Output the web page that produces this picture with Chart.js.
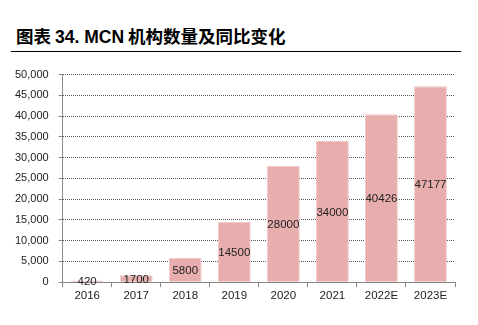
<!DOCTYPE html>
<html>
<head>
<meta charset="utf-8">
<script src="https://cdn.jsdelivr.net/npm/chart.js@4/dist/chart.umd.min.js"></script>
<style>
body { margin: 0; background: #fff; width: 478px; height: 325px; overflow: hidden; position: relative; }
#title { position: absolute; left: 16px; top: 23px; font: bold 17.5px "Noto Sans CJK SC", sans-serif; color: #000; white-space: nowrap; }
#title .n { font-family: "Liberation Sans", Arial, sans-serif; }
#rule { position: absolute; left: 11px; top: 51px; width: 450px; height: 0; border-top: 1.5px solid #000; }
#box { position: absolute; left: 0; top: 58px; width: 478px; height: 267px; }
</style>
</head>
<body>
<div id="title">图表 <span class="n">34. MCN</span> 机构数量及同比变化</div>
<div id="rule"></div>
<div id="box"><canvas id="myChart"></canvas></div>
<script>
const labels = ['2016', '2017', '2018', '2019', '2020', '2021', '2022E', '2023E'];
const data = [420, 1700, 5800, 14500, 28000, 34000, 40426, 47177];

// draws the value in the middle of each bar
const midLabels = {
  id: 'midLabels',
  afterDatasetsDraw(chart) {
    const ctx = chart.ctx;
    const meta = chart.getDatasetMeta(0);
    ctx.save();
    ctx.font = '11.5px "Liberation Sans", Arial, sans-serif';
    ctx.fillStyle = '#222';
    ctx.textAlign = 'center';
    ctx.textBaseline = 'middle';
    meta.data.forEach((bar, i) => {
      ctx.fillText(String(data[i]), bar.x, (bar.y + bar.base) / 2 + 1);
    });
    ctx.restore();
  }
};

const ctx = document.getElementById('myChart');
new Chart(ctx, {
  type: 'bar',
  data: {
    labels: labels,
    datasets: [{
      data: data,
      backgroundColor: '#E8ADAD',
      borderColor: '#F2CACA',
      borderWidth: 1,
      barPercentage: 0.67,
      categoryPercentage: 1
    }]
  },
  options: {
    responsive: true,
    maintainAspectRatio: false,
    animation: false,
    layout: { padding: { left: 5, right: 23, top: 3, bottom: 20 } },
    plugins: { legend: { display: false }, tooltip: { enabled: false } },
    scales: {
      x: {
        grid: { offset: true, drawOnChartArea: false, color: '#888', tickLength: 5 },
        border: { color: '#888' },
        ticks: { color: '#222', font: { size: 11.5, family: '"Liberation Sans", Arial' }, padding: 2 }
      },
      y: {
        min: 0,
        max: 50000,
        grid: { color: '#555', tickLength: 4, tickColor: '#888' },
        border: { color: '#888', dash: [1, 1] },
        ticks: {
          stepSize: 5000,
          color: '#222',
          padding: 10,
          font: { size: 11, family: '"Liberation Sans", Arial' },
          callback: v => v.toLocaleString('en-US')
        }
      }
    }
  },
  plugins: [midLabels]
});
</script>
</body>
</html>
